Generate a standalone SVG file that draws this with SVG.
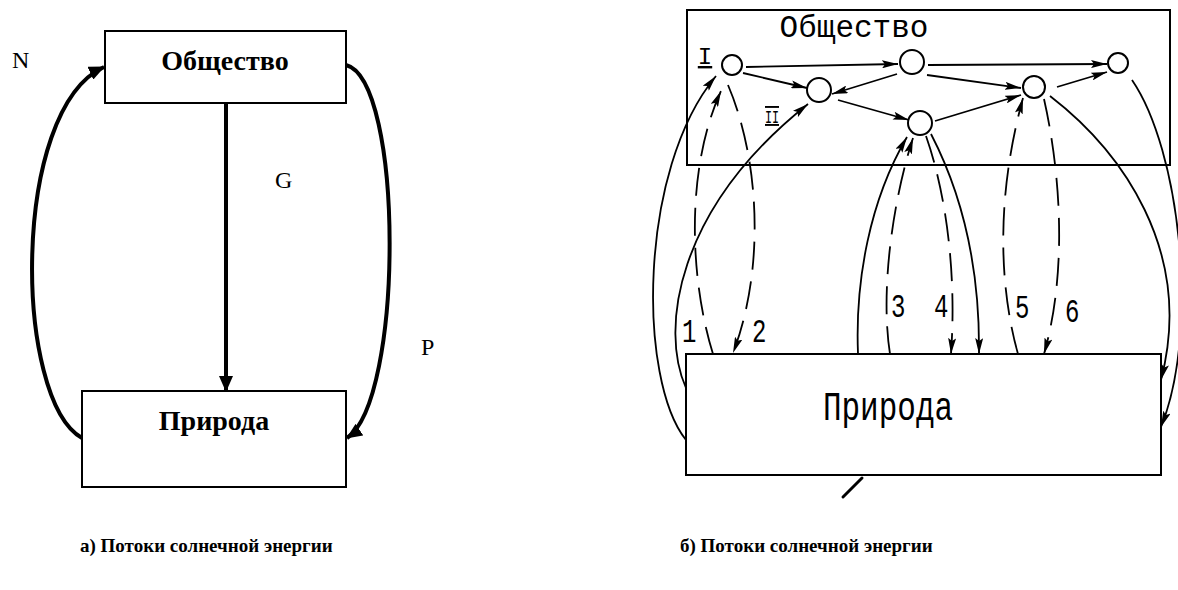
<svg xmlns="http://www.w3.org/2000/svg" width="1178" height="590" viewBox="0 0 1178 590">
  <style>
    .bg { fill: #ffffff; }
    .box { fill: #ffffff; stroke: #000; stroke-width: 2; }
    .bold-arrow { fill: none; stroke: #000; stroke-width: 4; }
    .serif { font-family: "Liberation Serif", "Times New Roman", serif; fill: #000; }
    .title { font-weight: bold; font-size: 28px; }
    .caption { font-weight: bold; font-size: 19px; }
    .letter { font-size: 24px; }
    .sk-box { fill: none; stroke: #000; stroke-width: 2; }
    .node { fill: #fff; stroke: #000; stroke-width: 2; }
    .sk { fill: none; stroke: #000; stroke-width: 1.8; }
    .dash { fill: none; stroke: #000; stroke-width: 1.8; stroke-dasharray: 28 12; }
    .mono { font-family: "Liberation Mono", "Courier New", monospace; fill: #000; }
  </style>
  <defs>
    <marker id="ab" viewBox="0 0 16 14" refX="15" refY="7" markerWidth="16" markerHeight="14" markerUnits="userSpaceOnUse" orient="auto">
      <path d="M0,0 L16,7 L0,14 z" fill="#000"/>
    </marker>
    <marker id="as" viewBox="0 0 16 8" refX="16" refY="4" markerWidth="16" markerHeight="8" markerUnits="userSpaceOnUse" orient="auto">
      <path d="M0,0 L16,4 L0,8 L3,4 z" fill="#000"/>
    </marker>
  </defs>
  <rect class="bg" x="0" y="0" width="1178" height="590"/>

  <!-- ===== Left diagram (a) ===== -->
  <g id="a-society">
    <rect class="box" x="105" y="31" width="241" height="72"/>
    <text class="serif title" x="225" y="70" text-anchor="middle">Общество</text>
  </g>
  <g id="a-nature">
    <rect class="box" x="82" y="391" width="264" height="96"/>
    <text class="serif title" x="214" y="430" text-anchor="middle">Природа</text>
  </g>
  <g id="a-connectors">
    <path class="bold-arrow" d="M226,103 L226,391" marker-end="url(#ab)"/>
    <path class="bold-arrow" d="M82,438 C14,400 10,110 104,67" marker-end="url(#ab)"/>
    <path class="bold-arrow" d="M346,65 C404,80 404,400 347,438" marker-end="url(#ab)"/>
  </g>
  <g id="a-labels">
    <text class="serif letter" x="12" y="68">N</text>
    <text class="serif letter" x="275" y="188">G</text>
    <text class="serif letter" x="421" y="355">P</text>
  </g>
  <text class="serif caption" x="80" y="552">а) Потоки солнечной энергии</text>

  <!-- ===== Right diagram (b) ===== -->
  <g id="b-society">
    <path class="sk-box" d="M687,10 L1170,10 L1170,165 L687,165 Z"/>
    <text class="mono" font-size="31" x="854" y="37" text-anchor="middle">Общество</text>
  </g>
  <g id="b-nature">
    <path class="sk-box" d="M686,354 L1161,354 L1161,475 L686,475 Z"/>
    <text class="mono" font-size="31" text-anchor="middle" transform="translate(888,420) scale(1,1.3)">Природа</text>
  </g>
  <g id="b-node-I">
    <circle class="node" cx="732" cy="65" r="10"/>
    <text class="mono" font-size="24" x="705" y="64" text-anchor="middle" text-decoration="underline">I</text>
  </g>
  <g id="b-node-II">
    <circle class="node" cx="819" cy="90" r="12"/>
    <text class="mono" font-size="19" x="765" y="123" textLength="14" lengthAdjust="spacingAndGlyphs" text-decoration="underline overline">II</text>
  </g>
  <g id="b-node-top-mid">
    <circle class="node" cx="912" cy="62" r="12"/>
  </g>
  <g id="b-node-top-right">
    <circle class="node" cx="1118" cy="63" r="10"/>
  </g>
  <g id="b-node-center">
    <circle class="node" cx="920" cy="123" r="12"/>
  </g>
  <g id="b-node-right">
    <circle class="node" cx="1034" cy="87" r="11"/>
  </g>

  <g id="b-connectors">
    <!-- inside society -->
    <path class="sk" d="M746,67 L898,64" marker-end="url(#as)"/>
    <path class="sk" d="M743,73 L807,88" marker-end="url(#as)"/>
    <path class="sk" d="M897,74 L832,94" marker-end="url(#as)"/>
    <path class="sk" d="M928,65 L1107,64" marker-end="url(#as)"/>
    <path class="sk" d="M927,75 L1021,88" marker-end="url(#as)"/>
    <path class="sk" d="M1057,87 L1107,72" marker-end="url(#as)"/>
    <path class="sk" d="M838,100 L909,120" marker-end="url(#as)"/>
    <path class="sk" d="M935,121 L1021,95" marker-end="url(#as)"/>
    <!-- nature -> society solid -->
    <path class="sk" d="M686,440 C638,380 638,170 716,76" marker-end="url(#as)"/>
    <path class="sk" d="M686,388 C660,330 675,210 808,104" marker-end="url(#as)"/>
    <path class="sk" d="M858,354 C855,280 870,200 907,137" marker-end="url(#as)"/>
    <!-- nature -> society dashed -->
    <path class="dash" d="M713,354 C690,280 685,170 721,91" marker-end="url(#as)"/>
    <path class="dash" d="M890,354 C880,290 893,200 913,138" marker-end="url(#as)"/>
    <path class="dash" d="M1018,354 C1000,290 995,200 1023,98" marker-end="url(#as)"/>
    <!-- society -> nature dashed -->
    <path class="dash" d="M728,85 C760,160 765,270 733,353" marker-end="url(#as)"/>
    <path class="dash" d="M926,136 C945,190 957,270 951,354" marker-end="url(#as)"/>
    <path class="dash" d="M1044,99 C1060,170 1068,270 1044,354" marker-end="url(#as)"/>
    <!-- society -> nature solid -->
    <path class="sk" d="M931,134 C960,190 980,260 979,354" marker-end="url(#as)"/>
    <path class="sk" d="M1050,96 C1120,150 1195,250 1161,380" marker-end="url(#as)"/>
    <path class="sk" d="M1132,80 C1180,150 1200,330 1161,427" marker-end="url(#as)"/>
    <!-- tick below nature -->
    <path d="M843,497 L862,478" stroke="#000" stroke-width="3" stroke-linecap="round"/>
  </g>
  <g id="b-labels">
    <text class="mono" font-size="24" transform="translate(682,342) scale(1,1.35)">1</text>
    <text class="mono" font-size="24" transform="translate(752,342) scale(1,1.35)">2</text>
    <text class="mono" font-size="24" transform="translate(891,317) scale(1,1.35)">3</text>
    <text class="mono" font-size="24" transform="translate(934,317) scale(1,1.35)">4</text>
    <text class="mono" font-size="24" transform="translate(1015,318) scale(1,1.35)">5</text>
    <text class="mono" font-size="24" transform="translate(1065,322) scale(1,1.35)">6</text>
  </g>
  <text class="serif caption" x="680" y="552">б) Потоки солнечной энергии</text>
</svg>
